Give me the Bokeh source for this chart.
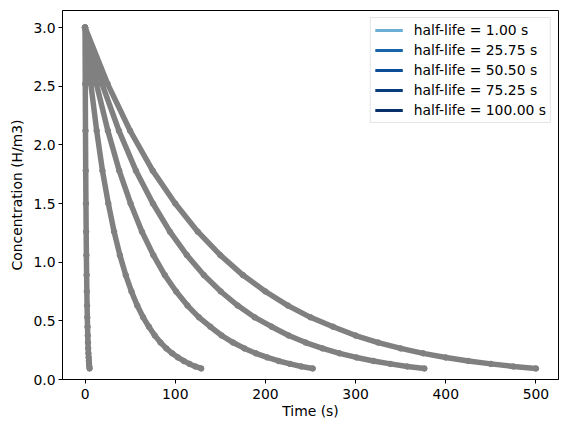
from bokeh.plotting import figure
from bokeh.models import Range1d, FixedTicker, PrintfTickFormatter, Legend, LegendItem
from bokeh.embed import file_html
from bokeh.resources import INLINE

# ---- data ----
half_lives = [1.00, 25.75, 50.50, 75.25, 100.00]
labels = ["half-life = 1.00 s", "half-life = 25.75 s", "half-life = 50.50 s",
          "half-life = 75.25 s", "half-life = 100.00 s"]
colors = ["#6aaed6", "#1764ab", "#0b4c97", "#083b7c", "#08306b"]

time_hl1 = [0, 0.25, 0.5, 0.75, 1.0, 1.25, 1.5, 1.75, 2.0, 2.25, 2.5, 2.75, 3.0,
            3.25, 3.5, 3.75, 4.0, 4.25, 4.5, 4.75, 5.0]
time_hl25 = [0, 6.4, 12.9, 19.3, 25.8, 32.2, 38.6, 45.1, 51.5, 57.9, 64.4, 70.8,
             77.3, 83.7, 90.1, 96.6, 103.0, 109.4, 115.9, 122.3, 128.8]
time_hl50 = [0, 12.6, 25.3, 37.9, 50.5, 63.1, 75.8, 88.4, 101.0, 113.6, 126.3,
             138.9, 151.5, 164.1, 176.8, 189.4, 202.0, 214.6, 227.3, 239.9, 252.5]
time_hl75 = [0, 18.8, 37.6, 56.4, 75.3, 94.1, 112.9, 131.7, 150.5, 169.3, 188.1,
             206.9, 225.8, 244.6, 263.4, 282.2, 301.0, 319.8, 338.6, 357.4, 376.3]
time_hl100 = [0, 25, 50, 75, 100, 125, 150, 175, 200, 225, 250, 275, 300, 325,
              350, 375, 400, 425, 450, 475, 500]
times = [time_hl1, time_hl25, time_hl50, time_hl75, time_hl100]

# concentration readings (same levels at the same fraction of each half-life)
conc = [3.00, 2.52, 2.12, 1.78, 1.50, 1.26, 1.06, 0.89, 0.75, 0.63, 0.53, 0.45,
        0.375, 0.315, 0.265, 0.223, 0.188, 0.158, 0.133, 0.111, 0.094]

x_ticks = [0, 100, 200, 300, 400, 500]
y_ticks = [0.0, 0.5, 1.0, 1.5, 2.0, 2.5, 3.0]

FONT = "DejaVu Sans"
FS = "13.9px"

p = figure(width=559, height=424, output_backend="svg", toolbar_location=None,
           x_range=Range1d(-25, 525), y_range=Range1d(0, 3.145),
           min_border_left=62, min_border_right=1, min_border_top=10,
           min_border_bottom=45)
p.grid.visible = False
p.outline_line_color = "black"
p.outline_line_alpha = 1.0
p.outline_line_width = 1
p.background_fill_color = "white"
p.border_fill_color = "white"

for ax in (p.xaxis, p.yaxis):
    ax.axis_line_color = "black"
    ax.major_tick_line_color = "black"
    ax.major_tick_out = 4
    ax.major_tick_in = 0
    ax.minor_tick_line_color = None
    ax.major_label_text_font = FONT
    ax.major_label_text_font_size = FS
    ax.major_label_text_color = "black"
    ax.axis_label_text_font = FONT
    ax.axis_label_text_font_size = FS
    ax.axis_label_text_font_style = "normal"
    ax.axis_label_text_color = "black"

p.xaxis.major_label_standoff = 5
p.yaxis.major_label_standoff = 3
p.xaxis.ticker = FixedTicker(ticks=x_ticks)
p.yaxis.ticker = FixedTicker(ticks=y_ticks)
p.yaxis.formatter = PrintfTickFormatter(format="%.1f")
p.xaxis.axis_label = "Time (s)"
p.yaxis.axis_label = "Concentration (H/m3)"
p.xaxis.axis_label_standoff = 1
p.yaxis.axis_label_standoff = 5

renderers = []
for t, c in zip(times, colors):
    r = p.line(t, conc, line_color=c, line_width=3)
    renderers.append(r)

for t in times:
    p.line(t, conc, line_color="#808080", line_width=5.5, line_cap="round",
           line_join="round")
    p.scatter(t, conc, size=5.5, color="#808080")

legend = Legend(items=[LegendItem(label=l, renderers=[r]) for l, r in zip(labels, renderers)],
                location="top_right")
legend.label_text_font = FONT
legend.label_text_font_size = FS
legend.label_text_color = "black"
legend.glyph_width = 28
legend.glyph_height = 14
legend.label_height = 14
legend.label_standoff = 11
legend.spacing = 4
legend.padding = 4
legend.margin = 7
legend.border_line_color = "#cccccc"
legend.border_line_width = 1
legend.background_fill_alpha = 0.8
p.add_layout(legend)

open("out.html", "w").write(file_html(p, INLINE))
